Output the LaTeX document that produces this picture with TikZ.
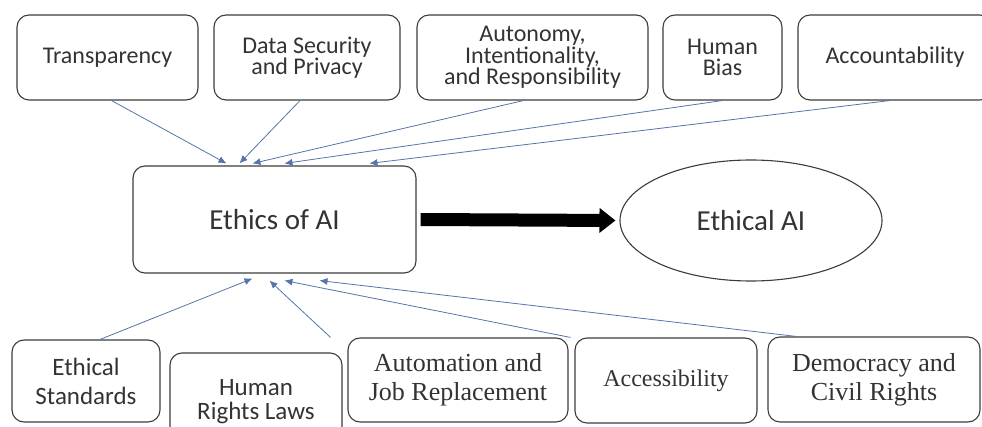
\documentclass[tikz,border=0pt]{standalone}
\usepackage{fontspec}
\setmainfont{Carlito}
\newfontfamily\tnr{Liberation Serif}
\usetikzlibrary{arrows.meta,shapes.geometric}

\definecolor{linkblue}{RGB}{84,116,170}
\definecolor{boxgray}{RGB}{60,60,60}

\begin{document}
\begin{tikzpicture}[x=1pt,y=-1pt,
    box/.style={draw=boxgray, line width=1.1pt, rounded corners=12pt, align=center,
        inner sep=0pt, text=black!80},
    topfont/.style={font=\fontsize{24}{20.5}\selectfont},
    botfont/.style={font=\fontsize{25}{29}\selectfont},
    serif/.style={font=\tnr\fontsize{26}{29}\selectfont},
    link/.style={color=linkblue, line width=0.8pt, -{Latex[length=8pt,width=7pt]}}]
        \useasboundingbox (0,0) rectangle (982,427);
        \clip (0,0) rectangle (982,427);

        % top row
        \node[box, topfont, minimum width=181, minimum height=85] at (107.5, 57.5)(t1){Transparency};
        \node[box, topfont, minimum width=186, minimum height=85] at (307, 57.5)(t2){Data Security\\and Privacy};
        \node[box, topfont, minimum width=231, minimum height=85] at (532.5, 57.5)(t3){Autonomy,\\Intentionality,\\and Responsibility};
        \node[box, topfont, minimum width=119, minimum height=85] at (722.5, 57.5)(t4){Human\\Bias};
        \node[box, topfont, minimum width=194, minimum height=85] at (895, 57.5)(t5){Accountability};

        % middle
        \node[box, font=\fontsize{29}{32}\selectfont, minimum width=283, minimum height=107] at (274.5, 219.5)(ethics){Ethics of AI};
        \node[draw=boxgray, line width=1.1pt, ellipse, inner sep=0pt, minimum width=262, minimum height=121,
            font=\fontsize{29}{32}\selectfont, text=black!80] at (751, 220.5)(ethical){Ethical AI};

        % bottom row
        \node[box, botfont, minimum width=148, minimum height=82] at (86, 381)(b1){Ethical\\Standards};
        \node[box, font=\fontsize{25}{24}\selectfont, minimum width=172, minimum height=98] at (256, 402)(b2){Human\\Rights Laws};
        \node[box, serif, minimum width=220, minimum height=84] at (458, 380)(b3){Automation and\\Job Replacement};
        \node[box, serif, minimum width=182, minimum height=85] at (666, 380.5)(b4){\fontsize{24}{29}\selectfont Accessibility};
        \node[box, serif, minimum width=212, minimum height=85] at (874, 379.5)(b5){Democracy and\\Civil Rights};

        \draw[line width=13pt, -{Triangle[length=16pt,width=24pt]}]
            ([xshift=4pt]ethics.east) -- ([xshift=-4pt]ethical.west);

        \path[link]
        ([xshift=4pt]t1.south) edge ([shift={(94pt,2pt)}]ethics.north west)
        ([xshift=-7pt]t2.south) edge ([shift={(107pt,2pt)}]ethics.north west)
        ([xshift=-9pt]t3.south) edge ([shift={(120pt,2pt)}]ethics.north west)
        (t4.south) edge ([shift={(152pt,2pt)}]ethics.north west)
        ([xshift=-5pt]t5.south) edge ([shift={(237pt,2pt)}]ethics.north west)
        ([xshift=14pt]b1.north) edge ([shift={(120pt,-5pt)}]ethics.south west)
        ([shift={(-12pt,15pt)}]b2.north east) edge ([shift={(137pt,-7pt)}]ethics.south west)
        ([xshift=2pt]b3.north east) edge ([shift={(152pt,-7pt)}]ethics.south west)
        ([xshift=29pt]b5.north west) edge ([shift={(187pt,-7pt)}]ethics.south west)
        ;
    \end{tikzpicture}
\end{document}
